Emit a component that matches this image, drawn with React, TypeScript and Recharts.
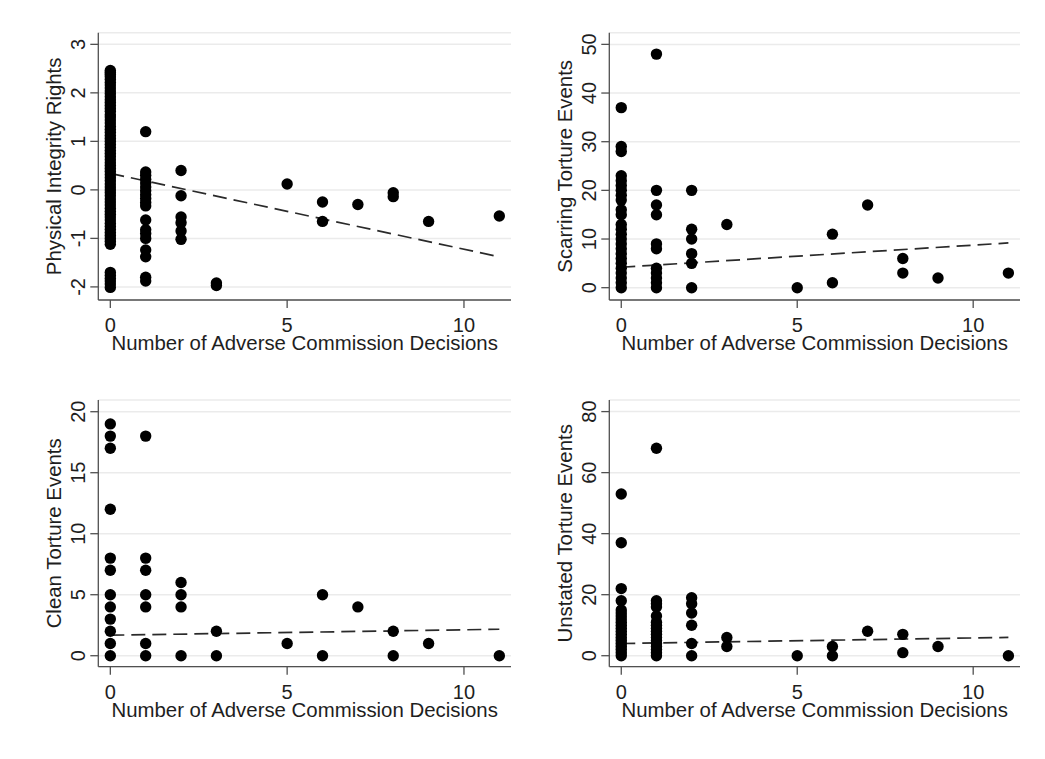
import React from 'react';
import {
    ScatterChart,
    Scatter,
    XAxis,
    YAxis,
    CartesianGrid,
    ReferenceLine,
    Label,
} from 'recharts';

// x axis: number of adverse commission decisions
const xTicks = [0, 5, 10];
const fitX = [0, 11];
const xTitle = 'Number of Adverse Commission Decisions';

// each group is [decisions, outcome values]
const physicalIntegrity: [number, number[]][] = [
    [0, [2.46, 2.42, 2.38, 2.33, 2.28, 2.22, 2.16, 2.1, 2.04, 1.98, 1.92, 1.86, 1.8, 1.74, 1.68, 1.62,
        1.55, 1.5, 1.44, 1.38, 1.31, 1.25, 1.19, 1.12, 1.06, 1.0, 0.94, 0.88, 0.81, 0.75, 0.69, 0.62,
        0.56, 0.5, 0.44, 0.38, 0.31, 0.25, 0.19, 0.12, 0.06, 0.0, -0.06, -0.12, -0.19, -0.25, -0.31,
        -0.38, -0.44, -0.5, -0.56, -0.62, -0.69, -0.75, -0.81, -0.88, -0.94, -1.0, -1.06, -1.12,
        -1.7, -1.76, -1.82, -1.88, -1.94, -2.01]],
    [1, [1.2, 0.37, 0.3, 0.22, 0.14, 0.06, -0.02, -0.1, -0.18, -0.26, -0.33, -0.62, -0.82, -0.9,
        -1.0, -1.24, -1.38, -1.8, -1.88]],
    [2, [0.4, -0.12, -0.56, -0.68, -0.85, -1.02]],
    [3, [-1.92, -1.97]],
    [5, [0.12]],
    [6, [-0.25, -0.65]],
    [7, [-0.3]],
    [8, [-0.06, -0.14]],
    [9, [-0.65]],
    [11, [-0.54]],
];
const physicalFit = [0.34, -1.38];
const physicalTicks = [-2, -1, 0, 1, 2, 3];

const scarringTorture: [number, number[]][] = [
    [0, [0, 1, 2, 3, 4, 5, 6, 7, 8, 9, 10, 11, 12, 13, 15, 16, 18, 19, 20, 21, 22, 23, 28, 29, 37]],
    [1, [48, 20, 17, 15, 9, 8, 4, 3, 2, 1, 0]],
    [2, [20, 12, 10, 7, 5, 0]],
    [3, [13]],
    [5, [0]],
    [6, [11, 1]],
    [7, [17]],
    [8, [6, 3]],
    [9, [2]],
    [11, [3]],
];
const scarringFit = [4.2, 9.2];
const scarringTicks = [0, 10, 20, 30, 40, 50];

const cleanTorture: [number, number[]][] = [
    [0, [19, 18, 17, 12, 8, 7, 5, 4, 3, 2, 1, 0]],
    [1, [18, 8, 7, 5, 4, 1, 0]],
    [2, [6, 5, 4, 0]],
    [3, [2, 0]],
    [5, [1]],
    [6, [5, 0]],
    [7, [4]],
    [8, [2, 0]],
    [9, [1]],
    [11, [0]],
];
const cleanFit = [1.68, 2.17];
const cleanTicks = [0, 5, 10, 15, 20];

const unstatedTorture: [number, number[]][] = [
    [0, [53, 37, 22, 18, 15, 14, 13, 12, 11, 10, 9, 8, 7, 6, 5, 4, 3, 2, 1, 0]],
    [1, [68, 18, 17, 16, 13, 11, 10, 9, 8, 7, 6, 5, 4, 3, 2, 1, 0]],
    [2, [19, 17, 14, 10, 4, 0]],
    [3, [6, 3]],
    [5, [0]],
    [6, [3, 0]],
    [7, [8]],
    [8, [7, 1]],
    [9, [3]],
    [11, [0]],
];
const unstatedFit = [4.0, 6.0];
const unstatedTicks = [0, 20, 40, 60, 80];

const FONT = '"Liberation Sans", Arial, sans-serif';
const TEXT = '#1e1e1e';
const AXIS = '#505050';

const toPoints = (groups: [number, number[]][]) =>
    groups.flatMap(([x, ys]) => ys.map((y) => ({ x, y })));

const Dot = (props: any) => <circle cx={props.cx} cy={props.cy} r={5.7} fill="#000" />;

const YTick = (props: any) => {
    const { x, y, payload } = props;
    return (
        <text
            x={x}
            y={y}
            transform={`rotate(-90 ${x} ${y})`}
            textAnchor="middle"
            fontSize={20}
            fill={TEXT}
            fontFamily={FONT}
        >
            {payload.value}
        </text>
    );
};

interface PanelProps {
    title: string;
    groups: [number, number[]][];
    fit: number[];
    yTicks: number[];
    yDomain: [number, number];
    left: number;
    top: number;
    width: number;
    height: number;
    plotLeft: number;
    plotRight: number;
    plotTop: number;
    plotBottom: number;
}

const Y_W = 60;
const X_H = 50;

const Panel = (p: PanelProps) => {
    const margin = {
        top: p.plotTop - p.top,
        right: p.left + p.width - p.plotRight,
        bottom: p.top + p.height - p.plotBottom - X_H,
        left: p.plotLeft - p.left - Y_W,
    };
    return (
        <div style={{ position: 'absolute', left: p.left, top: p.top }}>
            <ScatterChart width={p.width} height={p.height} margin={margin}>
                <CartesianGrid vertical={false} stroke="#ebebeb" strokeWidth={1.5} />
                <XAxis
                    type="number"
                    dataKey="x"
                    domain={[-0.34, 11.33]}
                    ticks={xTicks}
                    allowDataOverflow
                    height={X_H}
                    tickSize={8}
                    tickMargin={10}
                    stroke={AXIS}
                    strokeWidth={1.3}
                    tick={{ fontSize: 20, fill: TEXT, fontFamily: FONT }}
                    label={{
                        value: xTitle,
                        position: 'insideBottom',
                        offset: 0,
                        fontSize: 20.4,
                        fill: TEXT,
                        fontFamily: FONT,
                    }}
                />
                <YAxis
                    type="number"
                    dataKey="y"
                    domain={p.yDomain}
                    ticks={p.yTicks}
                    allowDataOverflow
                    width={Y_W}
                    tickSize={8}
                    tickMargin={5}
                    stroke={AXIS}
                    strokeWidth={1.3}
                    tick={<YTick />}
                >
                    <Label
                        content={(lp: any) => {
                            const vb = lp.viewBox || {};
                            const lx = vb.x + vb.width - 37.5;
                            const ly = vb.y + vb.height / 2;
                            return (
                                <text
                                    x={lx}
                                    y={ly}
                                    transform={`rotate(-90 ${lx} ${ly})`}
                                    textAnchor="middle"
                                    fontSize={20.4}
                                    fill={TEXT}
                                    fontFamily={FONT}
                                >
                                    {p.title}
                                </text>
                            );
                        }}
                    />
                </YAxis>
                <Scatter
                    data={toPoints(p.groups)}
                    shape={Dot}
                    isAnimationActive={false}
                />
                <ReferenceLine
                    segment={[
                        { x: fitX[0], y: p.fit[0] },
                        { x: fitX[1], y: p.fit[1] },
                    ]}
                    stroke="#2a2a2a"
                    strokeWidth={1.7}
                    strokeDasharray="14 7"
                />
            </ScatterChart>
        </div>
    );
};

const App = () => {
    return (
        <div
            style={{
                position: 'absolute',
                left: 0,
                top: 0,
                width: 1045,
                height: 759,
                background: '#fff',
                fontFamily: FONT,
            }}
        >
            <Panel
                title="Physical Integrity Rights"
                groups={physicalIntegrity}
                fit={physicalFit}
                yTicks={physicalTicks}
                yDomain={[-2.27, 3.24]}
                left={0}
                top={0}
                width={520}
                height={380}
                plotLeft={98.3}
                plotRight={511}
                plotTop={32.7}
                plotBottom={300}
            />
            <Panel
                title="Scarring Torture Events"
                groups={scarringTorture}
                fit={scarringFit}
                yTicks={scarringTicks}
                yDomain={[-2.53, 52.4]}
                left={520}
                top={0}
                width={525}
                height={380}
                plotLeft={609.3}
                plotRight={1020}
                plotTop={32.7}
                plotBottom={300}
            />
            <Panel
                title="Clean Torture Events"
                groups={cleanTorture}
                fit={cleanFit}
                yTicks={cleanTicks}
                yDomain={[-0.9, 20.96]}
                left={0}
                top={380}
                width={520}
                height={379}
                plotLeft={98.3}
                plotRight={511}
                plotTop={400}
                plotBottom={666.7}
            />
            <Panel
                title="Unstated Torture Events"
                groups={unstatedTorture}
                fit={unstatedFit}
                yTicks={unstatedTicks}
                yDomain={[-3.6, 83.8]}
                left={520}
                top={380}
                width={525}
                height={379}
                plotLeft={609.3}
                plotRight={1020}
                plotTop={400}
                plotBottom={666.7}
            />
        </div>
    );
};

export default App;
